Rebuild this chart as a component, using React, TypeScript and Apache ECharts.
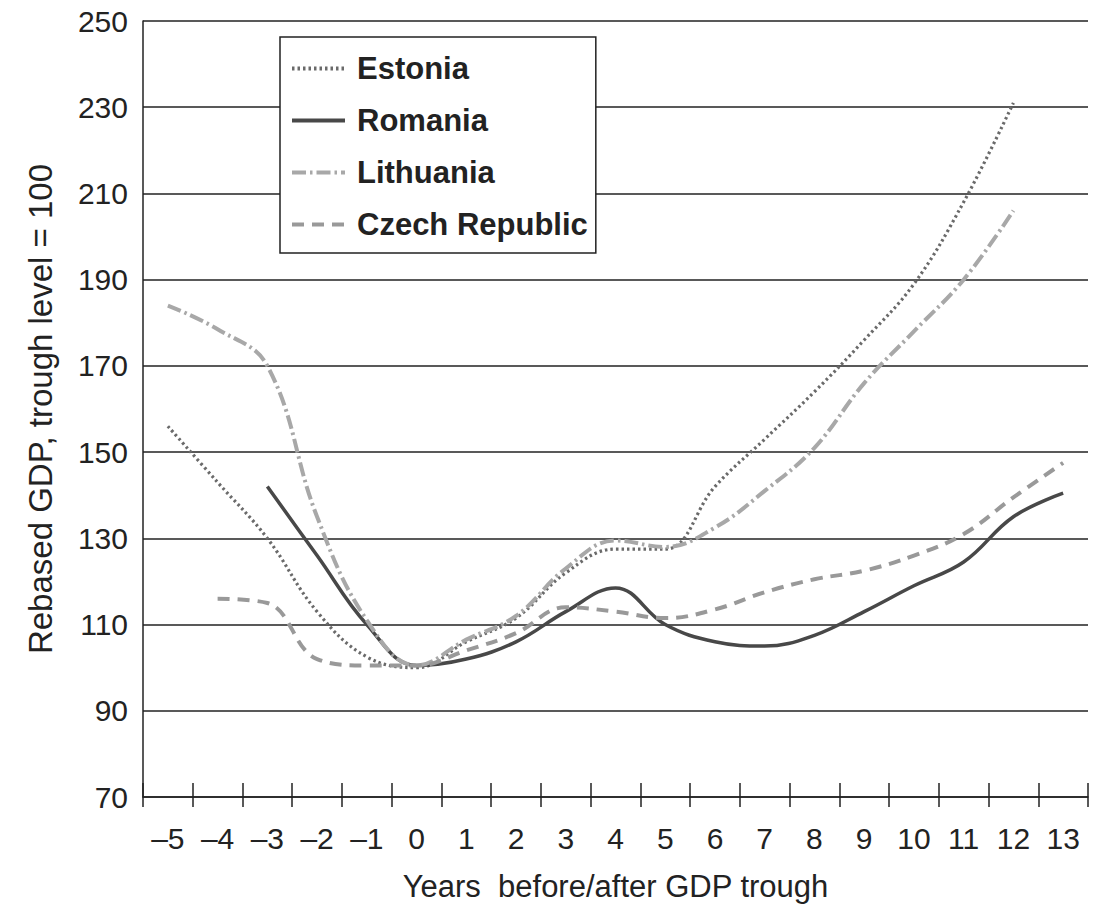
import React, { useEffect, useRef } from "react";
import * as echarts from "echarts";

const years = ["–5", "–4", "–3", "–2", "–1", "0", "1", "2", "3", "4", "5", "6", "7", "8", "9", "10", "11", "12", "13"];
const estonia = [156, 143, 130, 113, 102.5, 100, 106, 111.5, 122, 127.5, 127.5, 142, 153, 164, 176, 189, 208, 231, null];
const romania = [null, null, 142, 126, 110, 100.5, 102, 106, 113, 118.5, 110, 106, 105, 107.5, 113, 119, 124.5, 135, 140.5];
const lithuania = [184, 178.5, 170, 135, 111, 100.5, 106.5, 112, 123, 129.5, 128, 132.5, 141, 151, 166, 178, 190, 206, null];
const czech = [null, 116, 115, 102, 100.5, 100.5, 104, 108, 114, 113, 111.5, 113.5, 117.5, 120.5, 122.5, 126, 131, 139.5, 147.5];

const FONT = "'Liberation Sans', Arial, sans-serif";
const INK = "#222";

const STYLES: Record<string, { color: string; width: number; type: any; cap: any }> = {
  Estonia: { color: "#6a6a6a", width: 3.2, type: [2.5, 3], cap: "butt" },
  Romania: { color: "#484848", width: 3.5, type: "solid", cap: "butt" },
  Lithuania: { color: "#a8a8a8", width: 4, type: [14, 4, 2.5, 4], cap: "butt" },
  "Czech Republic": { color: "#999999", width: 4, type: [12, 8], cap: "butt" },
};

export default function App() {
  const ref = useRef<HTMLDivElement>(null);
  useEffect(() => {
    document.body.style.margin = "0";
    const chart = echarts.init(ref.current!, null, { renderer: "svg" });
    const mk = (name: string, data: (number | null)[]) => {
      const s = STYLES[name];
      return {
        name,
        type: "line",
        data,
        smooth: 0.4,
        symbol: "none",
        connectNulls: false,
        itemStyle: { color: s.color },
        lineStyle: { color: s.color, width: s.width, type: s.type, cap: s.cap },
        z: 3,
      };
    };
    const names = ["Estonia", "Romania", "Lithuania", "Czech Republic"];
    chart.setOption({
      animation: false,
      backgroundColor: "#fff",
      textStyle: { fontFamily: FONT },
      grid: { left: 143, right: 26, top: 21, bottom: 113, containLabel: false },
      legend: {
        data: names.map((n) => ({
          name: n,
          lineStyle: { color: STYLES[n].color, width: 4, type: STYLES[n].type },
        })),
        orient: "vertical",
        left: 280,
        top: 37,
        padding: [16, 8, 13, 10],
        itemWidth: 53,
        itemHeight: 20,
        itemGap: 21,
        itemStyle: { opacity: 0, borderWidth: 0 },
        backgroundColor: "#fff",
        borderColor: INK,
        borderWidth: 1.5,
        borderRadius: 0,
        textStyle: { fontSize: 31, fontWeight: "bold", color: INK, fontFamily: FONT, lineHeight: 30, padding: [0, 0, 0, 7] },
        z: 5,
      },
      xAxis: [
        {
          type: "category",
          data: years,
          boundaryGap: true,
          position: "bottom",
          axisLine: { show: true, lineStyle: { color: INK, width: 1.5 } },
          axisTick: { show: true, length: 10, lineStyle: { color: INK, width: 1.5 } },
          axisLabel: { fontSize: 30, color: INK, margin: 26, interval: 0, fontFamily: FONT },
          splitLine: { show: false },
          name: "Years  before/after GDP trough",
          nameLocation: "middle",
          nameGap: 74,
          nameTextStyle: { fontSize: 31, color: INK, fontFamily: FONT },
        },
        {
          type: "category",
          data: years,
          boundaryGap: true,
          position: "bottom",
          axisLine: { show: false },
          axisTick: { show: true, inside: true, length: 14, lineStyle: { color: INK, width: 1.5 } },
          axisLabel: { show: false },
          splitLine: { show: false },
        },
      ],
      yAxis: {
        type: "value",
        min: 70,
        max: 250,
        interval: 20,
        axisLine: { show: true, lineStyle: { color: INK, width: 1.5 } },
        axisTick: { show: false },
        axisLabel: { fontSize: 30, color: INK, margin: 15, fontFamily: FONT },
        splitLine: { show: true, lineStyle: { color: INK, width: 1.5 } },
        name: "Rebased GDP, trough level = 100",
        nameLocation: "middle",
        nameGap: 86,
        nameTextStyle: { fontSize: 33, color: INK, fontFamily: FONT },
      },
      series: names.map((n, i) => mk(n, [estonia, romania, lithuania, czech][i])),
    });
    return () => chart.dispose();
  }, []);
  return <div ref={ref} style={{ width: 1114, height: 910 }} />;
}
